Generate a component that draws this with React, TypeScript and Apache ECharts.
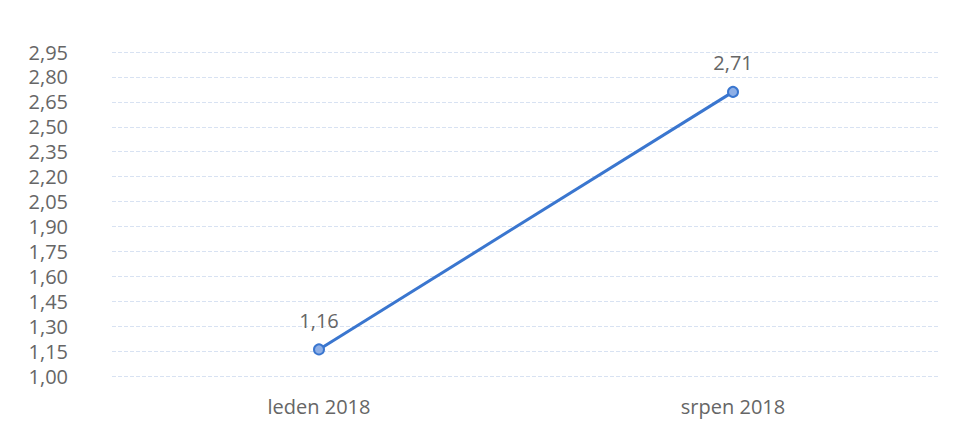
import React, { useEffect, useRef } from "react";
import * as echarts from "echarts";

const categories = ["leden 2018", "srpen 2018"];
const values = [1.16, 2.71];
const yMin = 1.0;
const yMax = 2.95;
const yInterval = 0.15;

const fmt = (v: number) => v.toFixed(2).replace(".", ",");

export default function App() {
  const ref = useRef<HTMLDivElement>(null);
  useEffect(() => {
    const chart = echarts.init(ref.current!, null, { renderer: "svg" });
    chart.setOption({
      animation: false,
      backgroundColor: "#ffffff",
      textStyle: { fontFamily: "Open Sans" },
      grid: { left: 112, right: 29, top: 52, bottom: 53 },
      xAxis: {
        type: "category",
        data: categories,
        boundaryGap: true,
        axisLine: { show: false },
        axisTick: { show: false },
        axisLabel: { color: "#666666", fontSize: 20, margin: 20, fontFamily: "Open Sans" },
      },
      yAxis: {
        type: "value",
        min: yMin,
        max: yMax,
        interval: yInterval,
        axisLine: { show: false },
        axisTick: { show: false },
        axisLabel: {
          color: "#666666",
          fontSize: 20,
          margin: 44,
          fontFamily: "Open Sans",
          formatter: (v: number) => fmt(v),
        },
        splitLine: { lineStyle: { color: "#d8e2f2", type: [4, 2], width: 1 } },
      },
      series: [
        {
          type: "line",
          data: values,
          symbol: "circle",
          symbolSize: 10,
          lineStyle: { color: "#3a76cf", width: 3 },
          itemStyle: { color: "#8eafe6", borderColor: "#3a76cf", borderWidth: 2 },
          label: {
            show: true,
            position: "top",
            distance: 13,
            color: "#666666",
            fontSize: 20,
            fontFamily: "Open Sans",
            formatter: (p: any) => fmt(p.value),
          },
        },
      ],
    });
    return () => chart.dispose();
  }, []);
  return (
    <div
      ref={ref}
      style={{ position: "fixed", left: 0, top: 0, width: 969, height: 429 }}
    />
  );
}
